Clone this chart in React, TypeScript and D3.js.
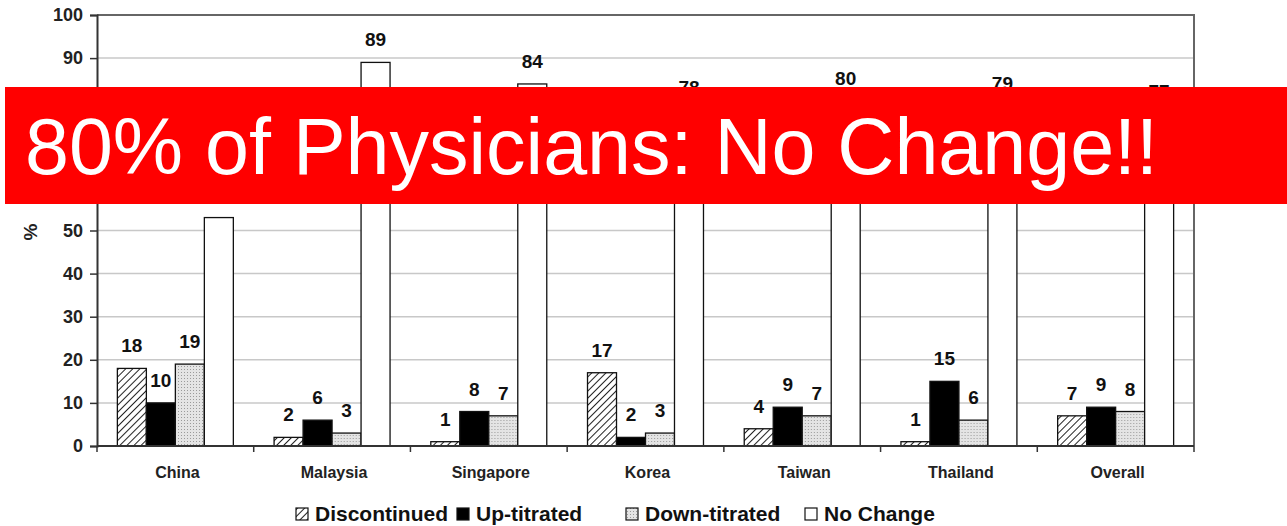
import React, { useEffect, useRef } from 'react';
import * as d3 from 'd3';

const countries = ['China', 'Malaysia', 'Singapore', 'Korea', 'Taiwan', 'Thailand', 'Overall'];
const seriesNames = ['Discontinued', 'Up-titrated', 'Down-titrated', 'No Change'];
const discontinued = [18, 2, 1, 17, 4, 1, 7];
const upTitrated = [10, 6, 8, 2, 9, 15, 9];
const downTitrated = [19, 3, 7, 3, 7, 6, 8];
const noChange = [53, 89, 84, 78, 80, 79, 77];
const yTicks = [0, 10, 20, 30, 40, 50, 60, 70, 80, 90, 100];
const bannerText = '80% of Physicians: No Change!!';

const W = 1287;
const H = 526;
const FONT = 'Liberation Sans, Arial, sans-serif';

const App = () => {
    const svgRef = useRef(null);

    useEffect(() => {
        const svg = d3.select(svgRef.current);
        svg.selectAll('*').remove();

        const margin = { top: 15, right: 93, bottom: 80, left: 97 };
        const width = W - margin.left - margin.right;
        const height = H - margin.top - margin.bottom;

        // patterns
        const defs = svg.append('defs');
        const hatch = defs.append('pattern')
            .attr('id', 'hatch')
            .attr('patternUnits', 'userSpaceOnUse')
            .attr('width', 5).attr('height', 5)
            .attr('patternTransform', 'rotate(45)');
        hatch.append('rect').attr('width', 5).attr('height', 5).attr('fill', '#fff');
        hatch.append('line').attr('x1', 0).attr('y1', 0).attr('x2', 0).attr('y2', 5)
            .attr('stroke', '#222').attr('stroke-width', 2);

        const dots = defs.append('pattern')
            .attr('id', 'dots')
            .attr('patternUnits', 'userSpaceOnUse')
            .attr('width', 3).attr('height', 3);
        dots.append('rect').attr('width', 3).attr('height', 3).attr('fill', '#e4e4e4');
        dots.append('rect').attr('width', 1).attr('height', 1).attr('fill', '#9a9a9a');

        const fills = ['url(#hatch)', '#000', 'url(#dots)', '#fff'];
        const values = [discontinued, upTitrated, downTitrated, noChange];

        const g = svg.append('g').attr('transform', `translate(${margin.left},${margin.top})`);

        const x0 = d3.scaleBand().domain(countries).range([0, width]).padding(0);
        const x1 = d3.scaleBand().domain(seriesNames)
            .range([x0.bandwidth() * 0.13, x0.bandwidth() * 0.87]).padding(0);
        const y = d3.scaleLinear().domain([0, 100]).range([height, 0]);

        // gridlines
        g.append('g').selectAll('line').data(yTicks.filter(d => d > 0 && d < 100)).join('line')
            .attr('x1', 0).attr('x2', width)
            .attr('y1', d => y(d)).attr('y2', d => y(d))
            .attr('stroke', '#c8c8c8').attr('stroke-width', 1.5);

        // frame top/right
        g.append('path')
            .attr('d', `M0,0H${width}V${height}`)
            .attr('fill', 'none').attr('stroke', '#666').attr('stroke-width', 2);

        // bars
        countries.forEach((c, i) => {
            const grp = g.append('g').attr('transform', `translate(${x0(c)},0)`);
            seriesNames.forEach((s, j) => {
                const v = values[j][i];
                grp.append('rect')
                    .attr('x', x1(s))
                    .attr('y', y(v))
                    .attr('width', x1.bandwidth())
                    .attr('height', height - y(v))
                    .attr('fill', fills[j])
                    .attr('stroke', '#111')
                    .attr('stroke-width', 1.3);
                grp.append('text')
                    .attr('x', x1(s) + x1.bandwidth() / 2)
                    .attr('y', y(v) - 16)
                    .attr('text-anchor', 'middle')
                    .attr('font-family', FONT)
                    .attr('font-weight', 'bold')
                    .attr('font-size', 19)
                    .attr('fill', '#111')
                    .text(v);
            });
        });

        // y axis
        const yAxis = g.append('g')
            .call(d3.axisLeft(y).tickValues(yTicks).tickSize(7).tickPadding(7));
        yAxis.select('.domain').attr('stroke', '#333').attr('stroke-width', 2);
        yAxis.selectAll('.tick line').attr('stroke', '#333').attr('stroke-width', 1.5);
        yAxis.selectAll('text')
            .attr('font-family', FONT)
            .attr('font-weight', 'bold')
            .attr('font-size', 18)
            .attr('fill', '#222');

        // x axis
        const xAxis = g.append('g').attr('transform', `translate(0,${height})`);
        xAxis.append('line').attr('x1', 0).attr('x2', width).attr('y1', 0).attr('y2', 0)
            .attr('stroke', '#333').attr('stroke-width', 2);
        xAxis.selectAll('line.tk').data(d3.range(countries.length + 1)).join('line')
            .attr('class', 'tk')
            .attr('x1', d => d * x0.step()).attr('x2', d => d * x0.step())
            .attr('y1', 0).attr('y2', 6)
            .attr('stroke', '#333').attr('stroke-width', 1.5);
        xAxis.selectAll('text').data(countries).join('text')
            .attr('x', d => x0(d) + x0.bandwidth() / 2 + 2)
            .attr('y', 32)
            .attr('text-anchor', 'middle')
            .attr('font-family', FONT)
            .attr('font-weight', 'bold')
            .attr('font-size', 16)
            .attr('fill', '#222')
            .text(d => d);

        // y label
        svg.append('text')
            .attr('transform', `translate(37,232) rotate(-90)`)
            .attr('text-anchor', 'middle')
            .attr('font-family', FONT)
            .attr('font-weight', 'bold')
            .attr('font-size', 19)
            .attr('fill', '#222')
            .text('%');

        // legend
        const legendX = [296, 457, 626, 805];
        const legend = svg.append('g').attr('transform', 'translate(0,508)');
        seriesNames.forEach((s, j) => {
            legend.append('rect')
                .attr('x', legendX[j]).attr('y', 0)
                .attr('width', 12).attr('height', 12)
                .attr('fill', fills[j]).attr('stroke', '#111').attr('stroke-width', 1.2);
            legend.append('text')
                .attr('x', legendX[j] + 19).attr('y', 13)
                .attr('font-family', FONT)
                .attr('font-weight', 'bold')
                .attr('font-size', 21)
                .attr('fill', '#111')
                .text(s);
        });

        // banner
        svg.append('rect')
            .attr('x', 5).attr('y', 87)
            .attr('width', W - 5).attr('height', 117)
            .attr('fill', '#ff0000');
        svg.append('text')
            .attr('x', 25).attr('y', 174)
            .attr('font-family', FONT)
            .attr('font-size', 79)
            .attr('fill', '#fff')
            .text(bannerText);
    }, []);

    return (
        <div style={{ position: 'absolute', left: 0, top: 0 }}>
            <svg ref={svgRef} width={W} height={H} style={{ display: 'block', background: '#fff' }}></svg>
        </div>
    );
};

export default App;
